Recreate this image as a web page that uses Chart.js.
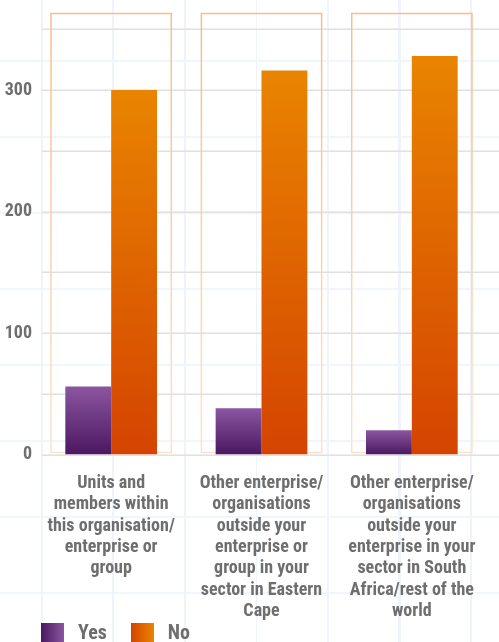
<!DOCTYPE html>
<html>
<head>
<meta charset="utf-8">
<script src="https://cdn.jsdelivr.net/npm/chart.js@4.4.0/dist/chart.umd.min.js"></script>
<style>
    html, body {
        margin: 0;
        padding: 0;
        width: 499px;
        height: 642px;
        overflow: hidden;
        background-color: #fff;
        background-image:
            repeating-linear-gradient(to right, transparent 0, transparent 41px, #eef4f9 41px, #eef4f9 43px, transparent 43px, transparent 71.5px),
            repeating-linear-gradient(to bottom, transparent 0, transparent 60px, #f1f6fa 60px, #f1f6fa 62px, transparent 62px, transparent 76px);
    }
    #wrap {
        position: relative;
        width: 499px;
        height: 677px;
    }
</style>
</head>
<body>
<div id="wrap"><canvas id="contactChart"></canvas></div>
<script>
const categories = [
    ['Units and', 'members within', 'this organisation/', 'enterprise or', 'group'],
    ['Other enterprise/', 'organisations', 'outside your', 'enterprise or', 'group in your', 'sector in Eastern', 'Cape'],
    ['Other enterprise/', 'organisations', 'outside your', 'enterprise in your', 'sector in South', 'Africa/rest of the', 'world']
];
const yesValues = [56, 38, 20];
const noValues = [300, 316, 328];
const frameValues = [363, 363, 363];
const yTicks = [0, 100, 200, 300];

const FONT = "'Roboto Condensed', 'Liberation Sans Narrow', 'DejaVu Sans Condensed', Roboto, sans-serif";
const TEXT_COLOR = '#6e6e6e';

// Tô gradient dọc cho từng cột, từ đỉnh cột xuống gốc
function barGradient(context, topColor, bottomColor) {
    const chart = context.chart;
    const yScale = chart.scales.y;
    if (!yScale || context.raw === undefined) return bottomColor;
    const top = yScale.getPixelForValue(context.raw);
    const bottom = yScale.getPixelForValue(0);
    if (!isFinite(top) || !isFinite(bottom) || top === bottom) return bottomColor;
    const g = chart.ctx.createLinearGradient(0, top, 0, bottom);
    g.addColorStop(0, topColor);
    g.addColorStop(1, bottomColor);
    return g;
}

// Lưới ngang mỗi 50 đơn vị và khung viền quanh từng nhóm cột
const backdropPlugin = {
    id: 'backdrop',
    afterLayout(chart) {
        // đưa chú thích sát dưới nhãn trục, thẳng hàng với trục tung
        const lg = chart.legend;
        if (lg) {
            lg.left += 17;
            lg.right += 17;
            lg.top -= 23;
            lg.bottom -= 23;
        }
    },
    beforeDatasetsDraw(chart) {
        const { ctx, scales } = chart;
        const x = scales.x;
        const y = scales.y;
        ctx.save();
        ctx.strokeStyle = '#e0e0e0';
        ctx.lineWidth = 1.5;
        for (let v = 0; v <= 350; v += 50) {
            const py = Math.round(y.getPixelForValue(v)) + 0.25;
            ctx.beginPath();
            ctx.moveTo(42, py);
            ctx.lineTo(chart.width, py);
            ctx.stroke();
        }

        const step = x.getPixelForValue(1) - x.getPixelForValue(0);
        const half = step * 0.4;
        const base = y.getPixelForValue(0) - 2;
        frameValues.forEach((v, i) => {
            const cx = x.getPixelForValue(i);
            const top = y.getPixelForValue(v);
            const g = ctx.createLinearGradient(0, top, 0, base);
            g.addColorStop(0, '#f8bd88');
            g.addColorStop(1, '#fde2cb');
            ctx.strokeStyle = g;
            ctx.lineWidth = 1.5;
            ctx.strokeRect(cx - half, top, half * 2, base - top);
        });
        ctx.restore();
    }
};

// Ô vuông chú thích tô gradient ngang
function legendSwatch(left, right) {
    const c = document.createElement('canvas');
    c.width = 23;
    c.height = 22;
    const cx = c.getContext('2d');
    const g = cx.createLinearGradient(0, 0, 23, 0);
    g.addColorStop(0, left);
    g.addColorStop(1, right);
    cx.fillStyle = g;
    cx.fillRect(0, 0, 23, 22);
    return c;
}
const yesSwatch = legendSwatch('#4a1860', '#8c55a0');
const noSwatch = legendSwatch('#d44400', '#e98400');

const ctx = document.getElementById('contactChart').getContext('2d');
new Chart(ctx, {
    type: 'bar',
    data: {
        labels: categories,
        datasets: [
            {
                label: 'Yes',
                data: yesValues,
                backgroundColor: (c) => barGradient(c, '#8c55a0', '#4a1860'),
                barPercentage: 1,
                categoryPercentage: 0.61
            },
            {
                label: 'No',
                data: noValues,
                backgroundColor: (c) => barGradient(c, '#e98400', '#d44400'),
                barPercentage: 1,
                categoryPercentage: 0.61
            }
        ]
    },
    options: {
        responsive: true,
        maintainAspectRatio: false,
        animation: false,
        layout: {
            padding: { left: 0, right: 12, top: 0, bottom: 0 }
        },
        scales: {
            x: {
                offset: true,
                grid: { display: false },
                border: { display: false },
                afterFit: (scale) => { scale.height = 172.5; },
                ticks: {
                    color: TEXT_COLOR,
                    font: { family: FONT, size: 18, weight: 'bold', lineHeight: 1.19 },
                    maxRotation: 0,
                    autoSkip: false,
                    padding: 10
                }
            },
            y: {
                min: 0,
                max: 370,
                grid: { display: false },
                border: { display: false },
                afterFit: (scale) => { scale.width = 36; },
                afterBuildTicks: (scale) => {
                    scale.ticks = yTicks.map(v => ({ value: v }));
                },
                ticks: {
                    color: TEXT_COLOR,
                    padding: -4,
                    font: { family: FONT, size: 18, weight: 'bold', lineHeight: 1 }
                }
            }
        },
        plugins: {
            legend: {
                position: 'bottom',
                align: 'start',
                labels: {
                    usePointStyle: true,
                    pointStyleWidth: 31,
                    generateLabels: () => [
                        { text: 'Yes', pointStyle: yesSwatch, datasetIndex: 0, fontColor: TEXT_COLOR, lineWidth: 0 },
                        { text: 'No', pointStyle: noSwatch, datasetIndex: 1, fontColor: TEXT_COLOR, lineWidth: 0 }
                    ],
                    color: TEXT_COLOR,
                    boxHeight: 22,
                    padding: 20,
                    font: { family: FONT, size: 20, weight: 'bold' }
                }
            },
            tooltip: { enabled: false }
        }
    },
    plugins: [backdropPlugin]
});
</script>
</body>
</html>
